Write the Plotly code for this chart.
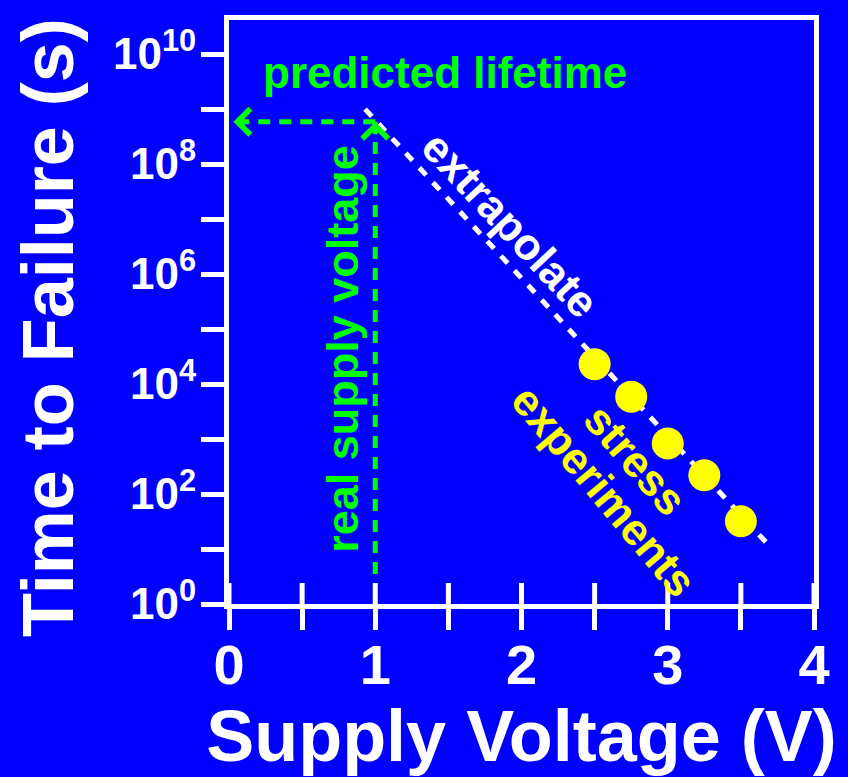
import plotly.graph_objects as go
import numpy as np

# ---- data ----
stress_voltage = [2.5, 2.75, 3.0, 3.25, 3.5]
stress_ttf = [2.3e4, 5.9e3, 8.3e2, 2.2e2, 3.2e1]

extrap_voltage = [0.93, 3.70]
extrap_ttf = [1.0e9, 1.1e1]

real_supply_voltage = 1.0
predicted_lifetime = 5.9e8
vertical_guide_bottom = 3.5

x_major_ticks = [0, 1, 2, 3, 4]
x_minor_ticks = [0.5, 1.5, 2.5, 3.5]
x_ticktext = ["<b>0</b>", "<b>1</b>", "<b>2</b>", "<b>3</b>", "<b>4</b>"]
y_major_exponents = [0, 2, 4, 6, 8, 10]
y_minor_exponents = [1, 3, 5, 7, 9]
y_tickvals = [10.0 ** e for e in y_major_exponents]
y_minor_vals = [10.0 ** e for e in y_minor_exponents]
y_ticktext = [f"<b>10<sup>{e}</sup></b>" for e in y_major_exponents]

BLUE = "#0000FF"
WHITE = "#FFFFFF"
GREEN = "#00FF00"
YELLOW = "#FFFF00"
FONT = "Arial, Liberation Sans, sans-serif"

fig = go.Figure()

# green guide lines (dashed)
fig.add_trace(go.Scatter(
    x=[real_supply_voltage, 0.03], y=[predicted_lifetime, predicted_lifetime],
    mode="lines", line=dict(color=GREEN, width=5, dash="12px,9px"),
    showlegend=False, hoverinfo="skip"))
fig.add_trace(go.Scatter(
    x=[real_supply_voltage, real_supply_voltage], y=[vertical_guide_bottom, predicted_lifetime],
    mode="lines", line=dict(color=GREEN, width=5, dash="12px,9px"),
    showlegend=False, hoverinfo="skip"))

# white extrapolation line
fig.add_trace(go.Scatter(
    x=extrap_voltage, y=extrap_ttf, mode="lines",
    line=dict(color=WHITE, width=5, dash="10px,10px"),
    showlegend=False, hoverinfo="skip"))

# stress experiments
fig.add_trace(go.Scatter(
    x=stress_voltage, y=stress_ttf, mode="markers",
    marker=dict(color=YELLOW, size=32, line=dict(width=0)),
    showlegend=False))

# inward part of the x ticks (ticks cross the axis line)
for xv in sorted(x_major_ticks + x_minor_ticks):
    fig.add_shape(type="line", xref="x", yref="paper", x0=xv, x1=xv, y0=0, y1=0.036,
                  line=dict(color=WHITE, width=5), layer="above")

annots = []
# arrow heads
annots.append(dict(x=0.03, y=np.log10(predicted_lifetime), xref="x", yref="y",
                   ax=14, ay=0, text="", showarrow=True, arrowhead=4, arrowsize=1,
                   arrowwidth=5, arrowcolor=GREEN))
annots.append(dict(x=real_supply_voltage, y=np.log10(predicted_lifetime), xref="x", yref="y",
                   ax=0, ay=14, text="", showarrow=True, arrowhead=4, arrowsize=1,
                   arrowwidth=5, arrowcolor=GREEN))
# text labels
annots.append(dict(x=1.476, y=9.66, xref="x", yref="y", text="<b>predicted lifetime</b>",
                   showarrow=False, font=dict(family=FONT, size=44, color=GREEN)))
annots.append(dict(x=0.776, y=4.65, xref="x", yref="y", text="<b>real supply voltage</b>",
                   showarrow=False, textangle=-90, font=dict(family=FONT, size=45, color=GREEN)))
annots.append(dict(x=1.925, y=6.90, xref="x", yref="y", text="<b>extrapolate</b>",
                   showarrow=False, textangle=47, font=dict(family=FONT, size=44, color=WHITE)))
annots.append(dict(x=2.78, y=2.63, xref="x", yref="y", text="<b>stress</b>",
                   showarrow=False, textangle=49, font=dict(family=FONT, size=44, color=YELLOW)))
annots.append(dict(x=2.565, y=2.07, xref="x", yref="y", text="<b>experiments</b>",
                   showarrow=False, textangle=50, font=dict(family=FONT, size=44, color=YELLOW)))
# y-axis title
annots.append(dict(x=0, y=0.5, xref="paper", yref="paper", xanchor="center", yanchor="middle",
                   xshift=-181, yshift=-16, textangle=-90, showarrow=False,
                   text="<b>Time to Failure (s)</b>",
                   font=dict(family=FONT, size=72, color=WHITE)))

fig.update_layout(
    width=848, height=777,
    paper_bgcolor=BLUE, plot_bgcolor=BLUE,
    margin=dict(l=229, r=34, t=20, b=173),
    font=dict(family=FONT, color=WHITE),
    annotations=annots,
    xaxis=dict(
        range=[0, 4], tickvals=x_major_ticks, ticktext=x_ticktext,
        ticks="outside", ticklen=21, tickwidth=5, tickcolor=WHITE,
        minor=dict(tickvals=x_minor_ticks, ticks="outside", ticklen=21, tickwidth=5,
                   tickcolor=WHITE, showgrid=False),
        showline=True, linecolor=WHITE, linewidth=5, mirror=True,
        showgrid=False, zeroline=False, ticklabelstandoff=-13,
        tickfont=dict(family=FONT, size=56, color=WHITE),
        title=dict(text="<b>Supply Voltage (V)</b>", standoff=0,
                   font=dict(family=FONT, size=72, color=WHITE)),
    ),
    yaxis=dict(
        type="log", range=[0, 10.62], tickvals=y_tickvals, ticktext=y_ticktext,
        ticks="outside", ticklen=23, tickwidth=5, tickcolor=WHITE,
        minor=dict(tickvals=y_minor_vals, ticks="outside", ticklen=23, tickwidth=5,
                   tickcolor=WHITE, showgrid=False),
        showline=True, linecolor=WHITE, linewidth=5, mirror=True,
        showgrid=False, zeroline=False, ticklabelstandoff=-4,
        tickfont=dict(family=FONT, size=44, color=WHITE),
    ),
)

fig.write_html("out.html", config={"displayModeBar": False},
               post_script="document.body.style.margin='0';document.body.style.background='#0000FF';")
